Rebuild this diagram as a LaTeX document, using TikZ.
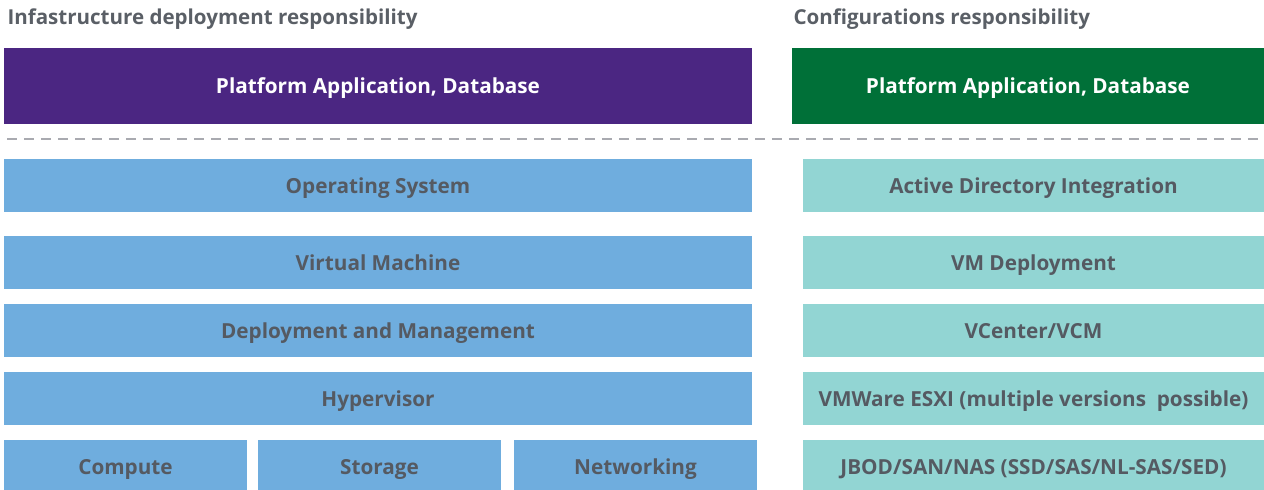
\documentclass[tikz,border=0pt]{standalone}
\usepackage{fontspec}
\setmainfont{Open Sans}
\usepackage{xcolor}
\usepackage{tikz}
\usetikzlibrary{positioning}
\definecolor{cInfra}{HTML}{4B2682}
\definecolor{cConf}{HTML}{007038}
\definecolor{cLayer}{HTML}{6FADDE}
\definecolor{cCfg}{HTML}{92D5D3}
\definecolor{cText}{HTML}{555A62}
\definecolor{cHead}{HTML}{5A5F66}
\definecolor{cSep}{HTML}{A9AAB0}
\tikzset{
  top/.style={fill=#1, text=white, font=\fontsize{11.8}{13}\selectfont\bfseries,
              minimum height=76\pgflinewidth, inner sep=0pt, text height=0.9em, text depth=0pt},
  layer/.style={fill=#1, text=cText, font=\fontsize{11.8}{13}\selectfont\bfseries,
                minimum height=53\pgflinewidth, inner sep=0pt, text height=0.9em, text depth=0pt},
  head/.style={anchor=base west, text=cHead, font=\fontsize{11.7}{13}\selectfont\bfseries, inner sep=0pt},
  sep/.style={cSep, line width=1.7pt, dash pattern=on 0.2cm off 0.14cm},
}
\begin{document}
\begin{tikzpicture}[x=0.02cm, y=-0.02cm, line width=0.02cm,
   wide/.style={minimum width=748\pgflinewidth},
   cfgw/.style={minimum width=461\pgflinewidth},
   third/.style={minimum width=243\pgflinewidth}]
  \useasboundingbox (0,0) rectangle (1264,490);
  \node[head] (hinfra) at (7,24)  {Infastructure deployment responsibility};
  \node[head] (hconf)  at (793,24) {Configurations responsibility};

  \node[top=cInfra, wide] (app)  at (378,86)  {Platform Application, Database};
  \node[top=cConf, minimum width=472\pgflinewidth] (capp) at (1028,86) {Platform Application, Database};

  \coordinate (sl) at (7,139);
  \coordinate (sr) at (1264,139);
  \draw[sep] (sl) -- (sr);

  \node[layer=cLayer, wide] (os)   at (378,185.5) {Operating System};
  \node[layer=cLayer, wide] (vm)   at (378,262.5) {Virtual Machine};
  \node[layer=cLayer, wide] (dm)   at (378,330.5) {Deployment and Management};
  \node[layer=cLayer, wide] (hyp)  at (378,398.5) {Hypervisor};
  \node[layer=cLayer, third] (comp) at (125.5,466.5) {Compute};
  \node[layer=cLayer, third] (stor) at (379.5,466.5) {Storage};
  \node[layer=cLayer, third] (net)  at (635.5,466.5) {Networking};

  \node[layer=cCfg, cfgw] (ad)   at (1033.5,185.5) {Active Directory Integration};
  \node[layer=cCfg, cfgw] (vmd)  at (1033.5,262.5) {VM Deployment};
  \node[layer=cCfg, cfgw] (vc)   at (1033.5,330.5) {VCenter/VCM};
  \node[layer=cCfg, cfgw] (esx)  at (1033.5,398.5) {VMWare ESXI (multiple versions\ \ possible)};
  \node[layer=cCfg, cfgw] (disk) at (1033.5,466.5) {JBOD/SAN/NAS (SSD/SAS/NL-SAS/SED)};
\end{tikzpicture}
\end{document}
